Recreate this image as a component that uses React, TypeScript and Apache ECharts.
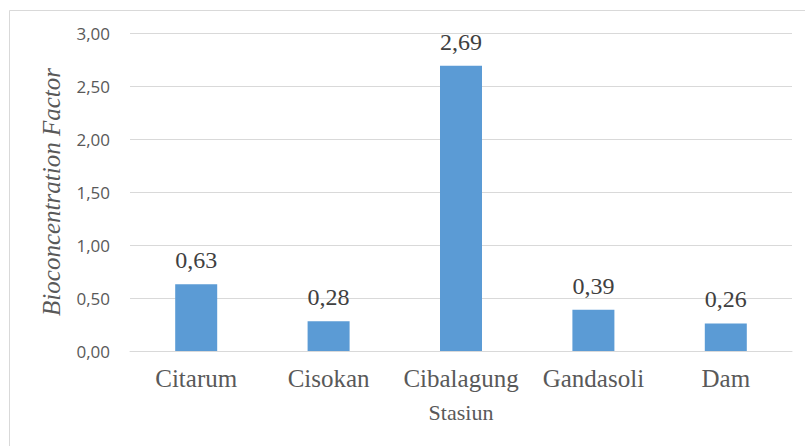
import React, { useEffect, useRef } from "react";
import * as echarts from "echarts";

const categories = ["Citarum", "Cisokan", "Cibalagung", "Gandasoli", "Dam"];
const values = [0.63, 0.28, 2.69, 0.39, 0.26];
const yAxisName = "Bioconcentration Factor";
const xAxisName = "Stasiun";

const fmt = (v: number) => v.toFixed(2).replace(".", ",");
const SERIF = "'Liberation Serif', 'Times New Roman', serif";

export default function App() {
  const ref = useRef<HTMLDivElement>(null);
  useEffect(() => {
    if (!ref.current) return;
    const chart = echarts.init(ref.current, undefined, { renderer: "svg" });
    chart.setOption({
      animation: false,
      backgroundColor: "#ffffff",
      graphic: [
        {
          type: "rect",
          shape: { x: 9.5, y: 10.5, width: 900, height: 600 },
          style: { fill: "none", stroke: "#d9d9d9", lineWidth: 1 },
          silent: true,
        },
      ],
      grid: { left: 130, right: 13, top: 33, bottom: 95, containLabel: false },
      xAxis: {
        type: "category",
        data: categories,
        axisLine: { show: true, lineStyle: { color: "#d9d9d9", width: 1 } },
        axisTick: { show: false },
        axisLabel: {
          interval: 0,
          color: "#595959",
          fontFamily: SERIF,
          fontSize: 25,
          margin: 15,
          hideOverlap: false,
        },
        name: xAxisName,
        nameLocation: "middle",
        nameGap: 50,
        nameTextStyle: {
          color: "#595959",
          fontFamily: SERIF,
          fontSize: 22,
        },
      },
      yAxis: {
        type: "value",
        min: 0,
        max: 3,
        interval: 0.5,
        axisLine: { show: false },
        axisTick: { show: false },
        splitLine: { lineStyle: { color: "#d9d9d9", width: 1 } },
        axisLabel: {
          color: "#595959",
          fontFamily: "'Open Sans', sans-serif",
          fontSize: 17,
          margin: 20,
          formatter: (v: number) => fmt(v),
        },
        name: yAxisName,
        nameLocation: "middle",
        nameGap: 66,
        nameTextStyle: {
          color: "#595959",
          fontFamily: SERIF,
          fontStyle: "italic",
          fontSize: 25,
        },
      },
      series: [
        {
          type: "bar",
          data: values,
          barWidth: 42,
          itemStyle: { color: "#5b9bd5" },
          label: {
            show: true,
            position: "top",
            distance: 12,
            color: "#404040",
            fontFamily: SERIF,
            fontSize: 24,
            formatter: (p: any) => fmt(p.value),
          },
        },
      ],
    });
    return () => chart.dispose();
  }, []);
  return (
    <div
      ref={ref}
      style={{ position: "fixed", left: 0, top: 0, width: 805, height: 446 }}
    />
  );
}
